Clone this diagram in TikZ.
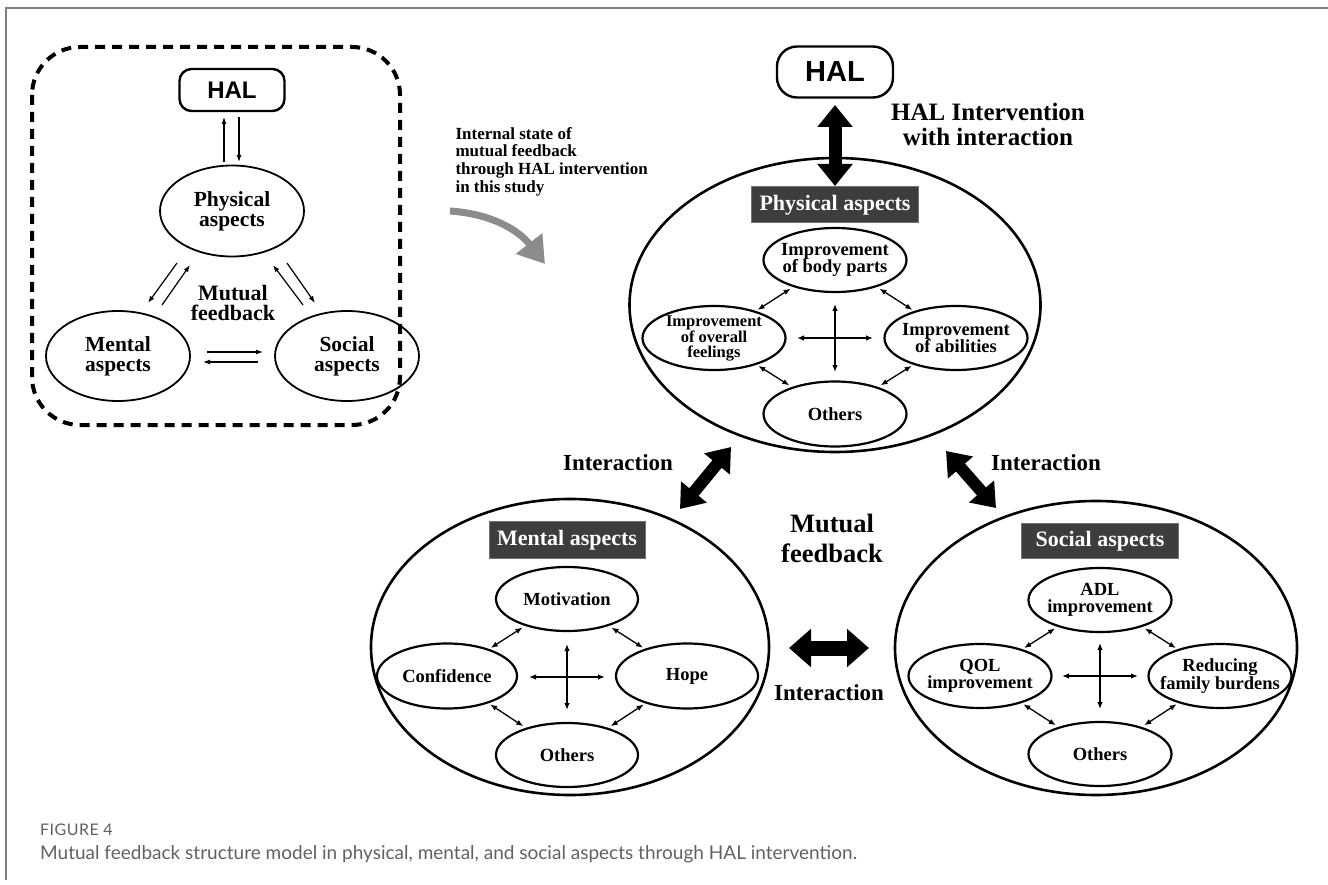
\documentclass[tikz,border=0pt]{standalone}
\usepackage{fontspec}
\setmainfont{Liberation Serif}
\newfontfamily\halfont{Liberation Sans}
\newfontfamily\capfont{Lato}
\usetikzlibrary{arrows.meta,shapes.geometric,calc}
\newcommand{\fsz}[2]{\fontsize{#1}{#2}\selectfont}
\begin{document}
\begin{tikzpicture}[x=1pt,y=-1pt,
 bigell/.style={ellipse,draw,line width=2.6pt,inner sep=-40pt},
 inell/.style={ellipse,draw,line width=2.2pt,inner sep=-40pt,minimum width=143pt,minimum height=64pt,align=center,font=\bfseries\fsz{18.5}{17}},
 smell/.style={ellipse,draw,line width=1.8pt,inner sep=-30pt,minimum width=144pt,minimum height=91pt,align=center,font=\bfseries\fsz{21.5}{20}},
 darkbox/.style={fill=black!76,draw=black!55,line width=1pt,text=white,font=\bfseries\fsz{22}{22},minimum height=36pt,inner sep=0pt},
 halbox/.style={draw,line width=2.4pt,rounded corners=12pt,font=\halfont\bfseries},
 thintwo/.style={line width=1.3pt,{Latex[length=7pt,width=5.5pt]}-{Latex[length=7pt,width=5.5pt]}},
 thinone/.style={line width=1.2pt,-{Latex[length=7pt,width=5pt]}},
 fat/.style={line width=13pt,{Triangle[length=22pt,width=34pt]}-{Triangle[length=22pt,width=34pt]}},
 lbl/.style={font=\bfseries\fsz{23}{25},align=center},
]
\useasboundingbox (0,0) rectangle (1328,885);
% frame
\draw[black!50,line width=1.5pt] (1328,8) -- (6,8) -- (6,880);

% ---------- left small diagram ----------
\draw[line width=4pt,dash pattern=on 10pt off 7pt,rounded corners=48pt] (32,47) rectangle (400,425);
\node[halbox,minimum width=105pt,minimum height=42pt,font=\halfont\bfseries\fsz{24}{24}] (hal1) at (232,90) {HAL};
\node[smell] (phys1) at (232,211) {Physical\\aspects};
\node[smell,minimum height=90pt] (ment1) at (118,356) {Mental\\aspects};
\node[smell,minimum height=90pt] (soc1) at (347,356) {Social\\aspects};
\node[font=\bfseries\fsz{22}{20},align=center] (mf1) at (233,303) {Mutual\\feedback};
\draw[thinone] ($(phys1)+(-8,-49)$) -- ($(hal1)+(-8,27)$);
\draw[thinone] ($(hal1)+(7,27)$) -- ($(phys1)+(7,-49)$);
\draw[thinone] ($(phys1)+(-55,52)$) -- ($(phys1)+(-84,92)$);
\draw[thinone] ($(ment1)+(44,-51)$) -- ($(ment1)+(72,-91)$);
\draw[thinone] ($(soc1)+(-44,-51)$) -- ($(soc1)+(-74,-91)$);
\draw[thinone] ($(phys1)+(55,52)$) -- ($(phys1)+(83,92)$);
\draw[thinone] ($(ment1)+(89,-4)$) -- ($(soc1)+(-84,-4)$);
\draw[thinone] ($(soc1)+(-89,6)$) -- ($(ment1)+(85,6)$);

% ---------- transition ----------
\node[anchor=west,align=left,font=\bfseries\fsz{17}{17.7}] (intnote) at (452,161.5) {Internal state of\\mutual feedback\\through HAL intervention\\in this study};
\coordinate (ga) at (450,211);
\coordinate (gb) at (545,264);
\draw[black!45,line width=7pt,-{Triangle[length=26pt,width=32pt]}] (ga) to[out=-4,in=128] (gb);

% ---------- physical ----------
\node[halbox,rounded corners=20pt,minimum width=116pt,minimum height=51pt,font=\halfont\bfseries\fsz{29}{29}] (hal2) at (835,72) {HAL};
\node[bigell,minimum width=411pt,minimum height=294pt] (pbig) at (835,305) {};
\node[darkbox,minimum width=167pt] (pbox) at (835,205) {Physical aspects};
\node[inell] (pbp) at (835,260) {Improvement\\of body parts};
\node[inell,font=\bfseries\fsz{16.5}{15}] (pof) at (714,338) {Improvement\\of overall\\feelings};
\node[inell] (pab) at (956,338) {Improvement\\of abilities};
\node[inell,minimum height=65pt] (pot) at (835,414) {Others};
\coordinate (pc) at (835,338);
\draw[thintwo] ($(pc)+(-38,0)$) -- ($(pc)+(38,0)$);
\draw[thintwo] ($(pc)+(0,-34)$) -- ($(pc)+(0,34)$);
\draw[thintwo,shorten <=3pt,shorten >=2pt] (pbp) -- (pof);
\draw[thintwo,shorten <=3pt,shorten >=2pt] (pbp) -- (pab);
\draw[thintwo,shorten <=2pt,shorten >=3pt] (pof) -- (pot);
\draw[thintwo,shorten <=2pt,shorten >=3pt] (pab) -- (pot);
\coordinate (h1) at (835,105);
\coordinate (h2) at (835,186);
\draw[fat] (h1) -- (h2);
\node[font=\bfseries\fsz{25}{25},align=center] (hint) at (988,124) {HAL Intervention\\with interaction};

% ---------- mental ----------
\node[bigell,minimum width=398pt,minimum height=296pt] (mbig) at (570,647) {};
\node[darkbox,minimum width=156pt,minimum height=37pt] (mbox) at (567,540) {Mental aspects};
\node[inell,minimum width=142pt] (mmo) at (567,599) {Motivation};
\node[inell,minimum width=140pt,minimum height=65pt] (mco) at (447,676) {Confidence};
\node[inell,minimum width=142pt,minimum height=65pt] (mho) at (687,676) {Hope};
\node[inell,minimum width=142pt] (mot) at (567,755) {Others};
\coordinate (mc) at (567,677);
\draw[thintwo] ($(mc)+(-38,0)$) -- ($(mc)+(38,0)$);
\draw[thintwo] ($(mc)+(0,-33)$) -- ($(mc)+(0,33)$);
\draw[thintwo,shorten <=3pt,shorten >=2pt] (mmo) -- (mco);
\draw[thintwo,shorten <=3pt,shorten >=2pt] (mmo) -- (mho);
\draw[thintwo,shorten <=2pt,shorten >=3pt] (mco) -- (mot);
\draw[thintwo,shorten <=2pt,shorten >=3pt] (mho) -- (mot);

% ---------- social ----------
\node[bigell,minimum width=402pt,minimum height=294pt] (sbig) at (1096,648) {};
\node[darkbox,minimum width=157pt,minimum height=35pt] (sbox) at (1100,541) {Social aspects};
\node[inell] (sadl) at (1100,600) {ADL\\improvement};
\node[inell] (sqol) at (980,676) {QOL\\improvement};
\node[inell] (srfb) at (1220,676) {Reducing\\family burdens};
\node[inell] (sot) at (1100,754) {Others};
\coordinate (sc) at (1100,676);
\draw[thintwo] ($(sc)+(-38,0)$) -- ($(sc)+(38,0)$);
\draw[thintwo] ($(sc)+(0,-33)$) -- ($(sc)+(0,33)$);
\draw[thintwo,shorten <=3pt,shorten >=2pt] (sadl) -- (sqol);
\draw[thintwo,shorten <=3pt,shorten >=2pt] (sadl) -- (srfb);
\draw[thintwo,shorten <=2pt,shorten >=3pt] (sqol) -- (sot);
\draw[thintwo,shorten <=2pt,shorten >=3pt] (srfb) -- (sot);

% ---------- interactions ----------
\coordinate (il1) at (680,509);
\coordinate (il2) at (731,447);
\coordinate (ir1) at (946,451);
\coordinate (ir2) at (996,508);
\coordinate (ib1) at (789,648);
\coordinate (ib2) at (869,648);
\draw[fat,line width=12pt,{Triangle[length=22pt,width=32pt]}-{Triangle[length=22pt,width=32pt]}] (il1) -- (il2);
\draw[fat,line width=12pt,{Triangle[length=22pt,width=32pt]}-{Triangle[length=22pt,width=32pt]}] (ir1) -- (ir2);
\draw[fat,line width=15pt,{Triangle[length=22pt,width=37pt]}-{Triangle[length=22pt,width=37pt]}] (ib1) -- (ib2);
\node[lbl] (itl) at (618,463) {Interaction};
\node[lbl] (itr) at (1046,463) {Interaction};
\node[lbl] (itb) at (829,693) {Interaction};
\node[font=\bfseries\fsz{26.5}{30},align=center] (mf2) at (832,538) {Mutual\\feedback};

% ---------- caption ----------
\node[anchor=base west,inner sep=0pt,font=\capfont\fsz{16}{16}\addfontfeature{LetterSpace=3},text=black!62] (fig) at (40,835) {FIGURE 4};
\node[anchor=base west,inner sep=0pt,font=\capfont\fsz{19}{19},text=black!62] (cap) at (40,859) {Mutual feedback structure model in physical, mental, and social aspects through HAL intervention.};
\end{tikzpicture}
\end{document}
